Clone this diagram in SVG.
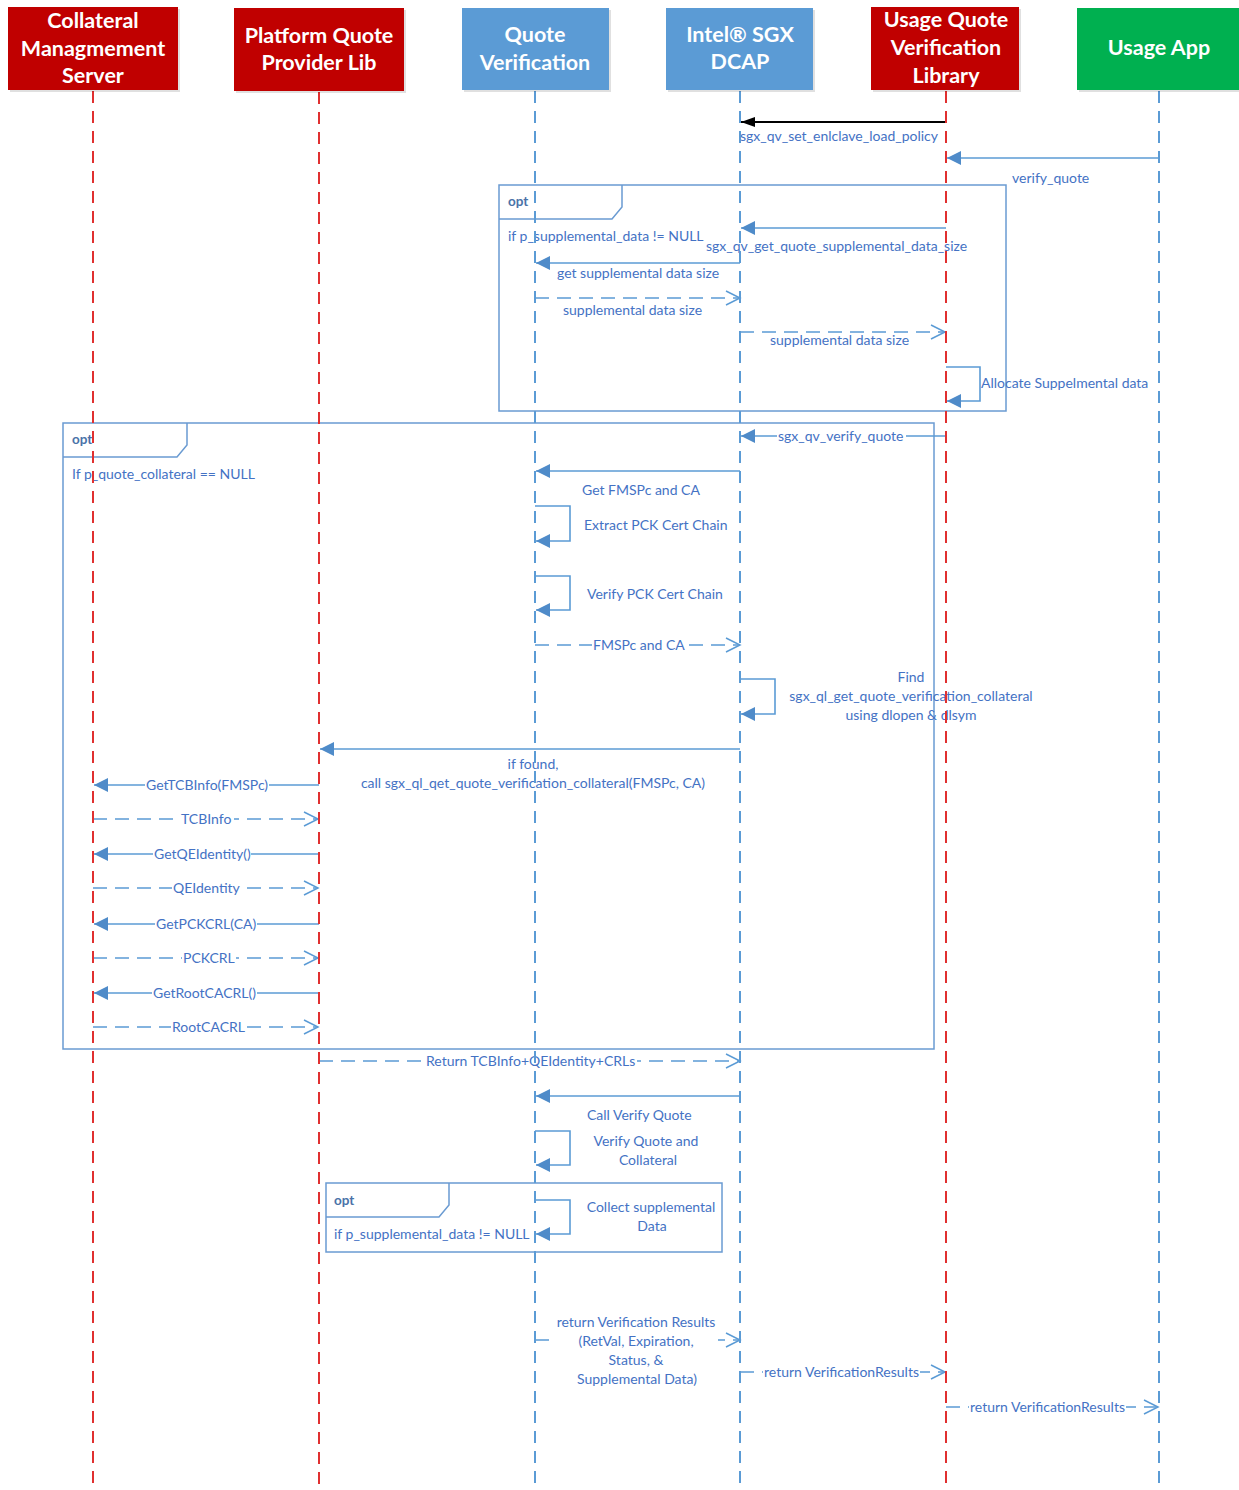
<svg xmlns="http://www.w3.org/2000/svg" width="1239" height="1490" viewBox="0 0 1239 1490">
<defs>
<marker id="fa" markerWidth="16" markerHeight="16" refX="14" refY="7" orient="auto" markerUnits="userSpaceOnUse" viewBox="0 0 16 14"><path d="M0,0 L14,7 L0,14 z" fill="#4F8BC9"/></marker>
<marker id="fb" markerWidth="16" markerHeight="12" refX="14" refY="5" orient="auto" markerUnits="userSpaceOnUse" viewBox="0 0 16 10"><path d="M0,0 L14,5 L0,10 z" fill="#000"/></marker>
<marker id="oa" markerWidth="18" markerHeight="18" refX="15" refY="8" orient="auto" markerUnits="userSpaceOnUse" viewBox="0 0 18 16"><path d="M1,1 L15,8 L1,15" fill="none" stroke="#5B9BD5" stroke-width="1.5"/></marker>
</defs>
<style>
.hd{font-family:Lato,"Open Sans","Liberation Sans",sans-serif;font-weight:bold;font-size:21.5px;fill:#fff;text-anchor:middle}
.red{fill:#C00000}
.blue{fill:#5B9BD5}
.green{fill:#00B050}
.sh{fill:#000;opacity:0.12}
.ll{fill:none;stroke-width:2;stroke-dasharray:12 8}
.llr{stroke:#E03030}
.llb{stroke:#5B9BD5}
.m{fill:none;stroke:#5B9BD5;stroke-width:1.6}
.d{stroke-dasharray:14 8}
.t{font-family:Lato,"Liberation Sans",sans-serif;font-size:14px;fill:#4472C4}
.c{text-anchor:middle}
.fr{fill:none;stroke:#6A9BD2;stroke-width:1.5}
.op{font-family:Lato,"Liberation Sans",sans-serif;font-size:13.5px;font-weight:bold;fill:#4A72A8}
.bg{fill:#fff}
</style>
<rect width="1239" height="1490" fill="#fff"/>

<g id="frames">
<g id="opt1">
<rect class="fr" x="499" y="185" width="507" height="226"/>
<path class="fr" d="M499,219 H612 L622,207 V185"/>
<text class="op" x="508" y="206">opt</text>
<text class="t" x="508" y="241">if p_supplemental_data != NULL</text>
</g>
<g id="opt2">
<rect class="fr" x="63" y="423" width="871" height="626"/>
<path class="fr" d="M63,457 H177 L187,445 V423"/>
<text class="op" x="72" y="444">opt</text>
<text class="t" x="72" y="479">If p_quote_collateral == NULL</text>
</g>
<g id="opt3">
<rect class="fr" x="326" y="1183" width="396" height="69"/>
<path class="fr" d="M326,1217 H439 L449,1205 V1183"/>
<text class="op" x="334" y="1205">opt</text>
<text class="t" x="334" y="1239">if p_supplemental_data != NULL</text>
</g>
</g>

<g id="connectors">
<line x1="946" y1="122" x2="741" y2="122" stroke="#000" stroke-width="2" marker-end="url(#fb)"/>
<text class="t" x="740" y="141">sgx_qv_set_enlclave_load_policy</text>

<line class="m" x1="1159" y1="158" x2="947" y2="158" marker-end="url(#fa)"/>
<text class="t" x="1012" y="183">verify_quote</text>

<line class="m" x1="946" y1="228" x2="741" y2="228" marker-end="url(#fa)"/>
<text class="t" x="706" y="251">sgx_qv_get_quote_supplemental_data_size</text>

<line class="m" x1="740" y1="263" x2="536" y2="263" marker-end="url(#fa)"/>
<text class="t" x="557" y="278">get supplemental data size</text>

<line class="m d" x1="535" y1="298" x2="740" y2="298" marker-end="url(#oa)"/>
<text class="t" x="563" y="315">supplemental data size</text>

<line class="m d" x1="740" y1="332" x2="945" y2="332" marker-end="url(#oa)"/>
<text class="t" x="770" y="345">supplemental data size</text>

<path class="m" d="M946,367 H980 V401 H947" marker-end="url(#fa)"/>
<text class="t" x="981" y="388">Allocate Suppelmental data</text>

<line class="m" x1="946" y1="436" x2="741" y2="436" marker-end="url(#fa)"/>
<rect class="bg" x="777" y="430" width="129" height="12"/>
<text class="t" x="778" y="441">sgx_qv_verify_quote</text>

<line class="m" x1="740" y1="471" x2="536" y2="471" marker-end="url(#fa)"/>
<text class="t" x="582" y="495">Get FMSPc and CA</text>

<path class="m" d="M535,506 H570 V541 H536" marker-end="url(#fa)"/>
<text class="t" x="584" y="530">Extract PCK Cert Chain</text>

<path class="m" d="M535,576 H570 V610 H536" marker-end="url(#fa)"/>
<text class="t" x="587" y="599">Verify PCK Cert Chain</text>

<line class="m d" x1="535" y1="645" x2="740" y2="645" marker-end="url(#oa)"/>
<rect class="bg" x="592" y="639" width="95" height="12"/>
<text class="t" x="593" y="650">FMSPc and CA</text>

<path class="m" d="M740,679 H775 V714 H741" marker-end="url(#fa)"/>
<text class="t c" x="911" y="682">Find</text>
<text class="t c" x="911" y="701">sgx_ql_get_quote_verification_collateral</text>
<text class="t c" x="911" y="720">using dlopen &amp; dlsym</text>

<line class="m" x1="740" y1="749" x2="320" y2="749" marker-end="url(#fa)"/>
<text class="t c" x="533" y="769">if found,</text>
<text class="t c" x="533" y="788">call sgx_ql_qet_quote_verification_collateral(FMSPc, CA)</text>

<line class="m" x1="319" y1="785" x2="94" y2="785" marker-end="url(#fa)"/>
<rect class="bg" x="145" y="779" width="124" height="12"/>
<text class="t" x="146" y="790">GetTCBInfo(FMSPc)</text>

<line class="m d" x1="93" y1="819" x2="318" y2="819" marker-end="url(#oa)"/>
<rect class="bg" x="180" y="813" width="54" height="12"/>
<text class="t" x="181" y="824">TCBInfo</text>

<line class="m" x1="319" y1="854" x2="94" y2="854" marker-end="url(#fa)"/>
<rect class="bg" x="153" y="848" width="98" height="12"/>
<text class="t" x="154" y="859">GetQEIdentity()</text>

<line class="m d" x1="93" y1="888" x2="318" y2="888" marker-end="url(#oa)"/>
<rect class="bg" x="172" y="882" width="69" height="12"/>
<text class="t" x="173" y="893">QEIdentity</text>

<line class="m" x1="319" y1="924" x2="94" y2="924" marker-end="url(#fa)"/>
<rect class="bg" x="155" y="918" width="102" height="12"/>
<text class="t" x="156" y="929">GetPCKCRL(CA)</text>

<line class="m d" x1="93" y1="958" x2="318" y2="958" marker-end="url(#oa)"/>
<rect class="bg" x="182" y="952" width="54" height="12"/>
<text class="t" x="183" y="963">PCKCRL</text>

<line class="m" x1="319" y1="993" x2="94" y2="993" marker-end="url(#fa)"/>
<rect class="bg" x="152" y="987" width="105" height="12"/>
<text class="t" x="153" y="998">GetRootCACRL()</text>

<line class="m d" x1="93" y1="1027" x2="318" y2="1027" marker-end="url(#oa)"/>
<rect class="bg" x="171" y="1021" width="75" height="12"/>
<text class="t" x="172" y="1032">RootCACRL</text>

<line class="m d" x1="319" y1="1061" x2="740" y2="1061" marker-end="url(#oa)"/>
<rect class="bg" x="425" y="1055" width="212" height="12"/>
<text class="t" x="426" y="1066">Return TCBInfo+QEIdentity+CRLs</text>

<line class="m" x1="740" y1="1096" x2="536" y2="1096" marker-end="url(#fa)"/>
<text class="t" x="587" y="1120">Call Verify Quote</text>

<path class="m" d="M535,1131 H570 V1165 H536" marker-end="url(#fa)"/>
<text class="t c" x="646" y="1146">Verify Quote and</text>
<text class="t c" x="648" y="1165">Collateral</text>

<path class="m" d="M535,1200 H570 V1234 H536" marker-end="url(#fa)"/>
<text class="t c" x="651" y="1212">Collect supplemental</text>
<text class="t c" x="652" y="1231">Data</text>

<line class="m d" x1="535" y1="1340" x2="740" y2="1340" marker-end="url(#oa)"/>
<rect class="bg" x="552" y="1312" width="166" height="76"/>
<text class="t c" x="636" y="1327">return Verification Results</text>
<text class="t c" x="636" y="1346">(RetVal, Expiration,</text>
<text class="t c" x="636" y="1365">Status, &amp;</text>
<text class="t c" x="637" y="1384">Supplemental Data)</text>

<line class="m d" x1="740" y1="1372" x2="945" y2="1372" marker-end="url(#oa)"/>
<rect class="bg" x="763" y="1366" width="157" height="12"/>
<text class="t" x="764" y="1377">return VerificationResults</text>

<line class="m d" x1="946" y1="1407" x2="1158" y2="1407" marker-end="url(#oa)"/>
<rect class="bg" x="969" y="1401" width="157" height="12"/>
<text class="t" x="970" y="1412">return VerificationResults</text>
</g>

<g id="lifelines">
<line class="ll llr" x1="93" y1="91" x2="93" y2="1490"/>
<line class="ll llr" x1="319" y1="92" x2="319" y2="1490"/>
<line class="ll llb" x1="535" y1="91" x2="535" y2="1490"/>
<line class="ll llb" x1="740" y1="91" x2="740" y2="1490"/>
<line class="ll llr" x1="946" y1="91" x2="946" y2="1490"/>
<line class="ll llb" x1="1159" y1="91" x2="1159" y2="1490"/>
</g>

<g id="n-cms">
<rect class="sh" x="10" y="9" width="170" height="83"/>
<rect class="red" x="8" y="7" width="170" height="83"/>
<text class="hd" x="93" y="28">Collateral</text>
<text class="hd" x="93" y="56">Managmement</text>
<text class="hd" x="93" y="83">Server</text>
</g>
<g id="n-pqpl">
<rect class="sh" x="236" y="10" width="170" height="83"/>
<rect class="red" x="234" y="8" width="170" height="83"/>
<text class="hd" x="319" y="43">Platform Quote</text>
<text class="hd" x="319" y="70">Provider Lib</text>
</g>
<g id="n-qv">
<rect class="sh" x="464" y="10" width="147" height="82"/>
<rect class="blue" x="462" y="8" width="147" height="82"/>
<text class="hd" x="535" y="42">Quote</text>
<text class="hd" x="535" y="70">Verification</text>
</g>
<g id="n-dcap">
<rect class="sh" x="668" y="10" width="147" height="82"/>
<rect class="blue" x="666" y="8" width="147" height="82"/>
<text class="hd" x="740" y="42">Intel® SGX</text>
<text class="hd" x="740" y="69">DCAP</text>
</g>
<g id="n-uqvl">
<rect class="sh" x="873" y="9" width="148" height="83"/>
<rect class="red" x="871" y="7" width="148" height="83"/>
<text class="hd" x="946" y="27">Usage Quote</text>
<text class="hd" x="946" y="55">Verification</text>
<text class="hd" x="946" y="83">Library</text>
</g>
<g id="n-ua">
<rect class="sh" x="1079" y="10" width="162" height="82"/>
<rect class="green" x="1077" y="8" width="162" height="82"/>
<text class="hd" x="1159" y="55">Usage App</text>
</g>
</svg>
